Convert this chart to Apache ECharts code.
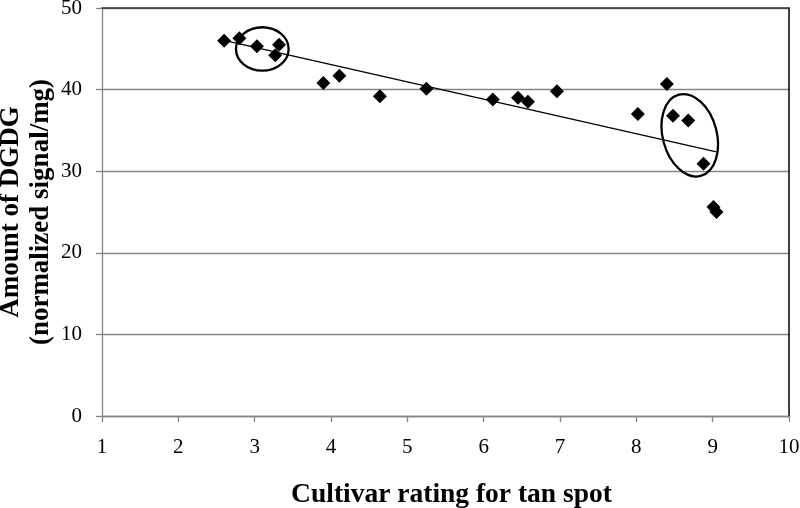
<!DOCTYPE html>
<html>
<head>
<meta charset="utf-8">
<script src="https://cdn.jsdelivr.net/npm/echarts@6/dist/echarts.min.js"></script>
<style>html,body{margin:0;padding:0;background:#fff}#c{width:800px;height:508px}</style>
</head>
<body>
<div id="c"></div>
<script>
// Cultivar rating for tan spot (x) vs amount of DGDG (y)
const ratings = [2.60, 2.80, 3.03, 3.27, 3.32, 3.90, 4.11, 4.64, 5.25, 6.12, 6.45, 6.58, 6.96, 8.02, 8.40, 8.48, 8.68, 8.88, 9.01, 9.05];
const dgdg    = [46.0, 46.3, 45.3, 44.2, 45.5, 40.8, 41.7, 39.2, 40.1, 38.8, 39.0, 38.5, 39.8, 37.0, 40.7, 36.8, 36.2, 30.9, 25.6, 25.0];
const xTicks = [1, 2, 3, 4, 5, 6, 7, 8, 9, 10];
const yTicks = [0, 10, 20, 30, 40, 50];
// highlighted groups (ellipses): centre in data units, semi-axes in data units, tilt in degrees
const circleCx = [3.10, 8.70];
const circleCy = [44.98, 34.4];
const circleRx = [0.345, 0.354];
const circleRy = [2.66, 5.15];
const circleTilt = [0, 15];

const points = ratings.map((x, i) => [x, dgdg[i]]);
// least-squares trend line
const n = ratings.length;
const mx = ratings.reduce((a, b) => a + b, 0) / n;
const my = dgdg.reduce((a, b) => a + b, 0) / n;
let sxy = 0, sxx = 0;
for (let i = 0; i < n; i++) { sxy += (ratings[i] - mx) * (dgdg[i] - my); sxx += (ratings[i] - mx) ** 2; }
const slope = sxy / sxx, icpt = my - slope * mx;
const xMin = Math.min(...ratings), xMax = Math.max(...ratings);
const trend = [[xMin, icpt + slope * xMin], [xMax, icpt + slope * xMax]];
const ellipses = circleCx.map((c, i) => [c, circleCy[i], circleRx[i], circleRy[i], circleTilt[i]]);

const font = 'Liberation Serif';
const chart = echarts.init(document.getElementById('c'), null, {renderer: 'canvas'});
chart.setOption({
  animation: false,
  backgroundColor: '#fff',
  grid: {left: 102, right: 11, top: 8, bottom: 92, containLabel: false, outerBoundsMode: 'none'},
  xAxis: [{
    type: 'value', min: xTicks[0], max: xTicks[xTicks.length - 1], interval: 1,
    axisLine: {show: true, lineStyle: {color: '#868686', width: 1.3}},
    axisTick: {show: true, length: 6, lineStyle: {color: '#868686', width: 1.3}},
    splitLine: {show: false},
    axisLabel: {fontFamily: font, fontSize: 21, color: '#000', margin: 21},
    name: 'Cultivar rating for tan spot', nameLocation: 'middle', nameGap: 65, nameMoveOverlap: false,
    nameTextStyle: {fontFamily: font, fontSize: 27.5, fontWeight: 'bold', color: '#000', padding: [0, 0, 0, 12]}
  }, {
    type: 'value', position: 'top', min: 1, max: 10,
    axisLine: {show: true, onZero: false, lineStyle: {color: '#333', width: 1.5}},
    axisTick: {show: false}, axisLabel: {show: false}, splitLine: {show: false}
  }],
  yAxis: [{
    type: 'value', min: yTicks[0], max: yTicks[yTicks.length - 1], interval: 10,
    axisLine: {show: true, lineStyle: {color: '#868686', width: 1.3}},
    axisTick: {show: true, length: 6, lineStyle: {color: '#868686', width: 1.3}},
    splitLine: {show: true, lineStyle: {color: '#868686', width: 1.3}},
    axisLabel: {fontFamily: font, fontSize: 21, color: '#000', margin: 20},
    name: 'Amount of DGDG\n(normalized signal/mg)', nameLocation: 'middle', nameGap: 46, nameRotate: 90,
    nameMoveOverlap: false,
    nameTextStyle: {fontFamily: font, fontSize: 27, fontWeight: 'bold', color: '#000', lineHeight: 30}
  }, {
    type: 'value', position: 'right', min: 0, max: 50,
    axisLine: {show: true, onZero: false, lineStyle: {color: '#000', width: 1.5}},
    axisTick: {show: false}, axisLabel: {show: false}, splitLine: {show: false}
  }],
  series: [{
    type: 'line', data: trend, symbol: 'none', silent: true,
    lineStyle: {color: '#000', width: 1.3}, z: 2
  }, {
    type: 'scatter', data: points, symbol: 'diamond', symbolSize: 14,
    itemStyle: {color: '#000', opacity: 1}, z: 3
  }, {
    type: 'custom', data: ellipses, silent: true, z: 4,
    renderItem: function (params, api) {
      const c = api.coord([api.value(0), api.value(1)]);
      const p1 = api.coord([api.value(0) + api.value(2), api.value(1)]);
      const p2 = api.coord([api.value(0), api.value(1) + api.value(3)]);
      const rx = Math.abs(p1[0] - c[0]);
      const ry = Math.abs(p2[1] - c[1]);
      return {
        type: 'ellipse',
        shape: {cx: c[0], cy: c[1], rx: rx, ry: ry},
        originX: c[0], originY: c[1],
        rotation: api.value(4) * Math.PI / 180,
        style: {fill: 'none', stroke: '#000', lineWidth: 2.3}
      };
    }
  }]
});
</script>
</body>
</html>
